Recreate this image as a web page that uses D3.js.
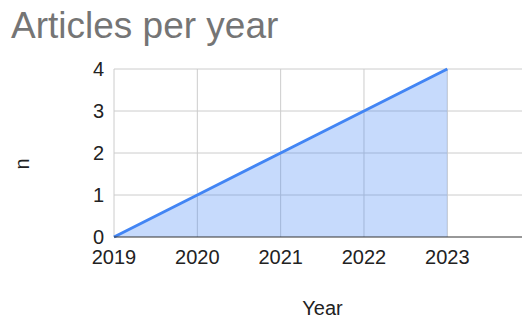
<!DOCTYPE html>
<html><head><meta charset="utf-8">
<script src="https://cdn.jsdelivr.net/npm/d3@7"></script>
<style>body{margin:0;background:#fff;}svg{display:block;font-family:"Liberation Sans",Arial,sans-serif;}</style>
</head><body>
<svg id="c" width="522" height="320"></svg>
<script>
const years = [2019, 2020, 2021, 2022, 2023];
const counts = [0, 1, 2, 3, 4];
const yTicks = [0, 1, 2, 3, 4];
const title = "Articles per year";
const xTitle = "Year";
const yTitle = "n";

(function () {
const svg = d3.select("#c");
const pLeft = 114, pTop = 69, pBottom = 237, pRight = 522;
const x = d3.scaleLinear().domain([2019, 2023]).range([pLeft, 447.3]);
const y = d3.scaleLinear().domain([0, 4]).range([pBottom, pTop]);

svg.append("text").attr("x", 11).attr("y", 38).attr("font-size", 37).attr("fill", "#757575").text(title);

const g = svg.append("g");
g.selectAll(".hg").data(yTicks.filter(d => d > 0)).join("line")
  .attr("x1", pLeft).attr("x2", pRight).attr("y1", d => y(d)).attr("y2", d => y(d))
  .attr("stroke", "#cccccc").attr("stroke-width", 1);
g.selectAll(".vg").data(years).join("line")
  .attr("x1", d => x(d)).attr("x2", d => x(d)).attr("y1", pTop).attr("y2", pBottom)
  .attr("stroke", "#cccccc").attr("stroke-width", 1);

const pts = years.map((d, i) => [d, counts[i]]);
g.append("path").datum(pts)
  .attr("d", d3.area().x(d => x(d[0])).y0(y(0)).y1(d => y(d[1])))
  .attr("fill", "#4285f4").attr("fill-opacity", 0.3);
g.append("path").datum(pts)
  .attr("d", d3.line().x(d => x(d[0])).y(d => y(d[1])))
  .attr("fill", "none").attr("stroke", "#4285f4").attr("stroke-width", 3);

g.append("line").attr("x1", pLeft).attr("x2", pRight).attr("y1", pBottom).attr("y2", pBottom)
  .attr("stroke", "#333333").attr("stroke-width", 1.2);

g.selectAll(".yl").data(yTicks).join("text")
  .attr("x", 104).attr("y", d => y(d)).attr("dy", "0.35em").attr("text-anchor", "end")
  .attr("font-size", 20).attr("fill", "#222").text(d => d);
g.selectAll(".xl").data(years).join("text")
  .attr("x", d => x(d)).attr("y", 264).attr("text-anchor", "middle")
  .attr("font-size", 20).attr("fill", "#222").text(d => d);

svg.append("text").attr("x", 322.5).attr("y", 315).attr("text-anchor", "middle")
  .attr("font-size", 20).attr("fill", "#222").text(xTitle);
svg.append("text").attr("transform", "translate(29,164) rotate(-90)")
  .attr("text-anchor", "middle").attr("font-size", 20).attr("fill", "#222").text(yTitle);
})();
</script>
</body></html>
